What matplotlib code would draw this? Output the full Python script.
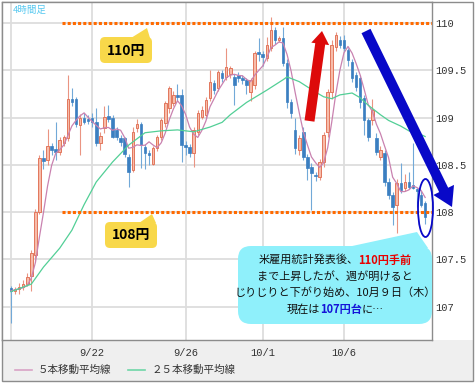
"""USD/JPY 4-hour chart with moving averages and annotations."""

import matplotlib

matplotlib.use("Agg")
import matplotlib.pyplot as plt
import numpy as np
import pandas as pd
from matplotlib.patches import Ellipse, FancyArrow, FancyBboxPatch, Polygon, Rectangle

# --- data (4h candles) ---
opens = [
    107.20, 107.17, 107.19, 107.21, 107.24, 107.33, 107.55, 108.00, 108.57, 108.55,
    108.70, 108.67, 108.64, 108.73, 108.78, 109.20, 109.20, 108.92, 109.00, 108.99,
    109.00, 108.95, 108.73, 108.89, 109.02, 109.00, 108.87, 108.78, 108.78, 108.58,
    108.45, 108.89, 108.93, 108.69, 108.63, 108.51, 108.68, 108.79, 108.94, 109.10,
    109.15, 109.24, 109.24, 108.71, 108.69, 108.63, 108.85, 109.01, 109.03, 109.21,
    109.37, 109.31, 109.47, 109.43, 109.46, 109.43, 109.45, 109.42, 109.40, 109.27,
    109.34, 109.69, 109.67, 109.63, 109.74, 109.93, 109.82, 109.84, 109.58, 109.16,
    108.87, 108.66, 108.85, 108.58, 108.48, 108.39, 108.37, 108.53, 108.85, 109.27,
    109.75, 109.82, 109.82, 109.71, 109.59, 109.45, 109.42, 109.21, 108.97, 108.97,
    108.78, 108.58, 108.63, 108.32, 108.18, 108.08, 108.31, 108.26, 108.32, 108.29,
    108.24, 108.18, 108.10,
]
highs = [
    107.22, 107.21, 107.25, 107.28, 107.36, 107.60, 108.03, 108.60, 108.66, 108.88,
    108.73, 108.95, 108.80, 108.82, 109.45, 109.31, 109.22, 109.04, 109.05, 109.03,
    109.05, 109.10, 108.85, 109.12, 109.13, 109.03, 108.90, 108.82, 108.80, 108.62,
    108.90, 108.98, 108.95, 108.72, 108.66, 108.70, 108.82, 109.00, 109.18, 109.33,
    109.28, 109.35, 109.30, 108.75, 108.72, 108.90, 109.08, 109.12, 109.22, 109.50,
    109.40, 109.50, 109.50, 109.74, 109.55, 109.46, 109.48, 109.45, 109.42, 109.42,
    109.70, 109.84, 109.70, 109.85, 110.06, 109.96, 109.86, 109.96, 109.62, 109.20,
    109.00, 108.82, 108.90, 108.62, 108.52, 108.42, 108.56, 108.85, 109.30, 109.82,
    109.90, 109.86, 109.87, 109.74, 109.62, 109.48, 109.45, 109.24, 109.00, 109.20,
    108.84, 108.70, 108.66, 108.36, 108.21, 108.35, 108.52, 108.40, 108.42, 108.73,
    108.26, 108.22, 108.12,
]
lows = [
    106.83, 107.13, 107.14, 107.18, 107.22, 107.17, 107.47, 107.98, 108.46, 108.50,
    108.60, 108.55, 108.60, 108.70, 108.75, 109.12, 108.90, 108.60, 108.93, 108.93,
    108.90, 108.70, 108.66, 108.84, 108.95, 108.78, 108.76, 108.70, 108.58, 108.27,
    108.42, 108.85, 108.47, 108.46, 108.50, 108.50, 108.65, 108.76, 108.90, 109.05,
    109.12, 109.18, 108.53, 108.60, 108.58, 108.48, 108.82, 108.98, 109.00, 109.18,
    109.25, 109.28, 109.38, 109.40, 109.42, 109.13, 109.38, 109.36, 109.25, 109.18,
    109.30, 109.60, 109.55, 109.60, 109.70, 109.78, 109.80, 109.55, 109.10, 109.00,
    108.62, 108.60, 108.55, 108.34, 108.02, 108.33, 108.34, 108.48, 108.80, 109.20,
    109.70, 109.74, 109.70, 109.55, 109.38, 109.28, 109.10, 108.82, 108.75, 108.92,
    108.60, 108.55, 108.28, 108.14, 107.86, 107.78, 108.20, 108.22, 108.25, 108.24,
    108.05, 108.05, 107.88,
]
closes = [
    107.17, 107.19, 107.21, 107.24, 107.31, 107.57, 108.00, 108.57, 108.54, 108.70,
    108.66, 108.64, 108.76, 108.79, 109.20, 109.17, 108.93, 109.00, 108.95, 108.96,
    108.95, 108.73, 108.81, 109.01, 108.98, 108.80, 108.80, 108.74, 108.62, 108.42,
    108.85, 108.93, 108.71, 108.63, 108.60, 108.68, 108.79, 108.97, 109.15, 109.31,
    109.24, 109.22, 108.71, 108.69, 108.63, 108.87, 109.05, 109.08, 109.19, 109.38,
    109.29, 109.48, 109.42, 109.53, 109.52, 109.34, 109.42, 109.40, 109.34, 109.40,
    109.68, 109.67, 109.64, 109.77, 109.93, 109.82, 109.84, 109.58, 109.16, 109.05,
    108.68, 108.78, 108.58, 108.47, 108.41, 108.38, 108.53, 108.82, 109.27, 109.77,
    109.87, 109.77, 109.74, 109.61, 109.42, 109.32, 109.16, 108.97, 108.80, 109.08,
    108.64, 108.66, 108.32, 108.18, 108.05, 108.31, 108.23, 108.32, 108.27, 108.26,
    108.22, 108.08, 107.95,
]

# 25-bar moving average as drawn (bar index, value)
ma25_bar = [0, 5, 8, 12, 15, 18, 21, 25, 29, 33, 37, 41, 45, 49, 52, 54, 58,
            63, 67, 68, 71, 75, 77, 79, 81, 84, 86, 88, 91, 93, 96, 98, 101, 102]
ma25 = [107.16, 107.24, 107.42, 107.62, 107.81, 108.08, 108.32, 108.53, 108.71,
        108.84, 108.86, 108.87, 108.85, 108.90, 108.95, 109.03, 109.16, 109.29,
        109.40, 109.43, 109.38, 109.27, 109.22, 109.20, 109.24, 109.26, 109.21,
        109.13, 109.03, 108.97, 108.91, 108.86, 108.82, 108.80]

tick_bars = [0, 20, 43, 62, 82]
tick_labels = ["", "9/22", "9/26", "10/1", "10/6"]
y_ticks = [107, 107.5, 108, 108.5, 109, 109.5, 110]
y_labels = ["107", "107.5", "108", "108.5", "109", "109.5", "110"]
levels = [110, 108]

JP = ["Noto Sans CJK JP", "DejaVu Sans"]
MONO = ["Liberation Mono", "DejaVu Sans Mono"]
W, H = 475, 383

fig = plt.figure(figsize=(W / 100, H / 100), dpi=100)

# background: grey strip at the bottom, outer frame
bg = fig.add_axes([0, 0, 1, 1], zorder=0)
bg.set_xlim(0, W)
bg.set_ylim(H, 0)
bg.axis("off")
bg.add_patch(Rectangle((1.5, 340), 471.5, 41, fc="#efefef", ec="none"))
bg.add_patch(Rectangle((1.5, 1.5), 471.5, 379.5, fc="none", ec="#8c8c8c", lw=1))

ax = fig.add_axes([2 / W, 1 - 340 / H, 430 / W, 338 / H], zorder=1)
ax.set_xlim(-2.22, 103.69)
ax.set_ylim(106.649, 110.222)

x = np.arange(len(closes))
o = np.array(opens)
c = np.array(closes)
hi = np.array(highs)
lo = np.array(lows)
up = c >= o
bottom = np.minimum(o, c)
height = np.maximum(np.abs(c - o), 0.012)

ax.vlines(x[up], lo[up], hi[up], color="#ea9482", lw=0.8, zorder=2)
ax.vlines(x[~up], lo[~up], hi[~up], color="#72a9d8", lw=0.8, zorder=2)
ax.bar(x[up], height[up], bottom=bottom[up], width=0.62, color="#f7bcaa",
       edgecolor="#e2765c", lw=0.7, zorder=3)
ax.bar(x[~up], height[~up], bottom=bottom[~up], width=0.62, color="#3b7fc1",
       edgecolor="#3b7fc1", lw=0.5, zorder=3)

ma5 = pd.Series(closes).rolling(5, min_periods=1).mean()
ax.plot(x, ma5, color="#c982b0", lw=0.9, zorder=4)
ax.plot(ma25_bar, ma25, color="#52cf96", lw=0.9, zorder=4)

for lv in levels:
    ax.hlines(lv, 12.6, ax.get_xlim()[1], color="#ff6a00", lw=2.2,
              linestyles=(0, (1, 0.7)), zorder=5)

ax.set_xticks(tick_bars, tick_labels)
ax.set_yticks(y_ticks, y_labels)
ax.yaxis.tick_right()
ax.tick_params(length=0, labelsize=7.5, labelcolor="#333333")
ax.tick_params(axis="y", pad=2.5)
ax.tick_params(axis="x", pad=5.5)
for lab in ax.get_xticklabels() + ax.get_yticklabels():
    lab.set_fontfamily(MONO)
ax.grid(color="#dddddd", lw=1.3)
ax.set_axisbelow(True)
for sp in ax.spines.values():
    sp.set_color("#8c8c8c")
    sp.set_linewidth(1)

# --- annotations in pixel space ---
ov = fig.add_axes([0, 0, 1, 1], zorder=5)
ov.set_xlim(0, W)
ov.set_ylim(H, 0)
ov.axis("off")

ov.text(13, 10, "4時間足", color="#55c8f0", fontsize=6.8, family=JP,
        ha="left", va="center")

YEL = "#f8d84a"
for (bx, by), label, tail in [
    ((100, 37), "110円", [(131, 38), (150, 38), (147, 28)]),
    ((105, 222), "108円", [(139, 223), (156, 223), (152, 214)]),
]:
    ov.add_patch(Polygon(tail, closed=True, fc=YEL, ec="none"))
    ov.add_patch(FancyBboxPatch((bx, by), 52, 26,
                                boxstyle="round,pad=0,rounding_size=5",
                                fc=YEL, ec="none"))
    ov.text(bx + 26, by + 13.5, label, fontsize=10, fontweight="bold",
            family=JP, ha="center", va="center", color="black")

ov.add_patch(FancyArrow(309.5, 121, 12.5, -90, width=10, head_width=18,
                        head_length=13, length_includes_head=True,
                        fc="#dd0a0a", ec="none"))
ov.add_patch(FancyArrow(366, 31, 86, 176, width=10, head_width=23,
                        head_length=19, length_includes_head=True,
                        fc="#0808c8", ec="none"))
ov.add_patch(Ellipse((425.5, 208), 15, 58, fc="none", ec="#0808c8", lw=1.3))

CYAN = "#8ff0fb"
ov.add_patch(Polygon([(343, 248), (417, 232), (428, 248)], closed=True,
                     fc=CYAN, ec="none"))
ov.add_patch(FancyBboxPatch((238, 246), 194, 78,
                            boxstyle="round,pad=0,rounding_size=13",
                            fc=CYAN, ec="none"))

renderer = fig.canvas.get_renderer()


def rich_line(y, parts, size=8):
    texts = []
    for s, color, weight in parts:
        texts.append(ov.text(0, y, s, color=color, fontweight=weight,
                             fontsize=size, family=JP, ha="left", va="center"))
    widths = [t.get_window_extent(renderer).width for t in texts]
    x0 = 335 - sum(widths) / 2
    for t, w in zip(texts, widths):
        t.set_x(x0)
        x0 += w


K = "#111111"
rich_line(260, [("米雇用統計発表後、", K, "normal"), ("110円手前", "#e80000", "bold")])
rich_line(276, [("まで上昇したが、週が明けると", K, "normal")])
rich_line(293, [("じりじりと下がり始め、10月９日（木）", K, "normal")])
rich_line(310, [("現在は", K, "normal"), ("107円台", "#1414d8", "bold"), ("に…", K, "normal")])

# legend
ov.plot([15, 32], [370, 370], color="#d9a3c6", lw=1.2)
ov.text(38, 370, "５本移動平均線", fontsize=7.6, family=JP, color="#333333",
        ha="left", va="center")
ov.plot([128, 145], [370, 370], color="#6fd6a8", lw=1.2)
ov.text(152, 370, "２５本移動平均線", fontsize=7.6, family=JP, color="#333333",
        ha="left", va="center")

fig.savefig("out.png", dpi=100)
